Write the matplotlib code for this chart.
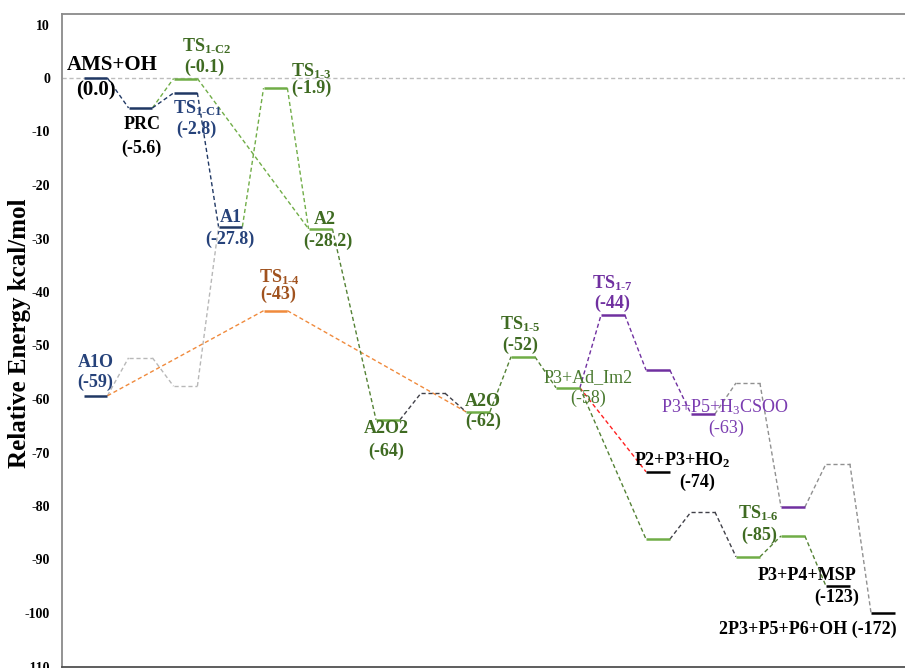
import numpy as np
import matplotlib.pyplot as plt

plt.rcParams['font.family'] = ['Liberation Serif', 'DejaVu Serif']
plt.rcParams['mathtext.fontset'] = 'custom'
plt.rcParams['mathtext.rm'] = 'Liberation Serif:bold'
plt.rcParams['mathtext.it'] = 'Liberation Serif:bold'
plt.rcParams['mathtext.bf'] = 'Liberation Serif:bold'

NAVY = '#203864'
NAVY_T = '#26427a'
GREEN = '#70ad47'
DGREEN = '#548235'
GREEN_T = '#3f6b22'
ORANGE = '#f08a3c'
BROWN = '#a0521e'
PURPLE = '#7030a0'
RED = '#ff2020'
LGREY = '#b8b8b8'
GREY = '#909090'
DGREY = '#404048'

# levels: key, slot on x, plotted energy, colour, solid level or dashed hump
lv_key = ['AMS', 'PRC', 'TSC2', 'TSC1', 'TS13', 'A1', 'A2', 'A1O', 'h1', 'h2',
          'TS14', 'A2O2', 'h3', 'A2O', 'TS15', 'P3Ad', 'TS17', 'pu1', 'P3P5',
          'h4', 'pu2', 'h5', 'END', 'P2P3', 'g1', 'h6', 'g2', 'TS16', 'MSP']
lv_x = [0, 1, 2, 2, 4, 3, 5, 0, 1, 2,
        4, 6.5, 7.5, 8.5, 9.5, 10.5, 11.5, 12.5, 13.5,
        14.5, 15.5, 16.5, 17.5, 12.5, 12.5, 13.5, 14.5, 15.5, 16.5]
lv_y = [0.0, -5.6, -0.1, -2.8, -1.9, -27.8, -28.2, -59.4, -52.3, -57.6,
        -43.5, -63.9, -58.9, -62.4, -52.1, -57.9, -44.3, -54.6, -62.8,
        -57.0, -80.2, -72.1, -100.0, -73.6, -86.2, -81.1, -89.5, -85.6, -95.0]
lv_col = [NAVY, NAVY, GREEN, NAVY, GREEN, NAVY, GREEN, NAVY, LGREY, LGREY,
          ORANGE, GREEN, DGREY, GREEN, GREEN, GREEN, PURPLE, PURPLE, PURPLE,
          GREY, PURPLE, GREY, 'black', 'black', GREEN, DGREY, GREEN, GREEN, 'black']
lv_hump = ['h1', 'h2', 'h3', 'h4', 'h5', 'h6']

# dashed connectors: from, to, colour
links = [('AMS', 'PRC', NAVY), ('PRC', 'TSC2', GREEN), ('PRC', 'TSC1', NAVY),
         ('TSC2', 'A2', GREEN), ('TSC1', 'A1', NAVY), ('A1', 'TS13', GREEN),
         ('TS13', 'A2', GREEN), ('A1O', 'h1', LGREY), ('h1', 'h2', LGREY),
         ('h2', 'A1', LGREY), ('A1O', 'TS14', ORANGE), ('TS14', 'A2O', ORANGE),
         ('A2', 'A2O2', DGREEN), ('A2O2', 'h3', DGREY), ('h3', 'A2O', DGREY),
         ('A2O', 'TS15', DGREEN), ('TS15', 'P3Ad', DGREEN),
         ('P3Ad', 'TS17', PURPLE), ('TS17', 'pu1', PURPLE), ('pu1', 'P3P5', PURPLE),
         ('P3P5', 'h4', GREY), ('h4', 'pu2', GREY), ('pu2', 'h5', GREY),
         ('h5', 'END', GREY), ('P3Ad', 'P2P3', RED), ('P3Ad', 'g1', DGREEN),
         ('g1', 'h6', DGREY), ('h6', 'g2', DGREY), ('g2', 'TS16', DGREEN),
         ('TS16', 'MSP', DGREEN)]

# labels: key, text, offset from level centre (pixels), colour, bold, size
labels = [
    ('AMS', 'AMS+OH', (17, 13), 'black', True, 15),
    ('AMS', '(0.0)', (0, -12), 'black', True, 15),
    ('PRC', 'PRC', (2, -17), 'black', True, 13),
    ('PRC', '(-5.6)', (1, -40), 'black', True, 13),
    ('TSC2', r'TS$_\mathregular{1\text{-}C2}$', (21, 32), GREEN_T, True, 13),
    ('TSC2', '(-0.1)', (19, 11), GREEN_T, True, 13),
    ('TSC1', r'TS$_\mathregular{1\text{-}C1}$', (12, -15), NAVY_T, True, 13),
    ('TSC1', '(-2.8)', (11, -36), NAVY_T, True, 13),
    ('TS13', r'TS$_\mathregular{1\text{-}3}$', (36, 17), GREEN_T, True, 13),
    ('TS13', '(-1.9)', (36, 0), GREEN_T, True, 13),
    ('A1', 'A1', (0, 9), NAVY_T, True, 13),
    ('A1', '(-27.8)', (-1, -13), NAVY_T, True, 13),
    ('A2', 'A2', (4, 9), GREEN_T, True, 13),
    ('A2', '(-28.2)', (7, -12), GREEN_T, True, 13),
    ('A1O', 'A1O', (0, 33), NAVY_T, True, 13),
    ('A1O', '(-59)', (0, 13), NAVY_T, True, 13),
    ('TS14', r'TS$_\mathregular{1\text{-}4}$', (4, 34), BROWN, True, 13),
    ('TS14', '(-43)', (3, 16), BROWN, True, 13),
    ('A2O2', 'A2O2', (-2, -9), GREEN_T, True, 13),
    ('A2O2', '(-64)', (-2, -31), GREEN_T, True, 13),
    ('A2O', 'A2O', (5, 10), GREEN_T, True, 13),
    ('A2O', '(-62)', (5, -10), GREEN_T, True, 13),
    ('TS15', r'TS$_\mathregular{1\text{-}5}$', (-3, 33), GREEN_T, True, 13),
    ('TS15', '(-52)', (-3, 11), GREEN_T, True, 13),
    ('P3Ad', 'P3+Ad_Im2', (20, 10), '#4a7a30', False, 13),
    ('P3Ad', '(-58)', (20, -11), '#4a7a30', False, 13),
    ('TS17', r'TS$_\mathregular{1\text{-}7}$', (-1, 32), PURPLE, True, 13),
    ('TS17', '(-44)', (-1, 12), PURPLE, True, 13),
    ('P3P5', r'P3+P5+H$_\mathregular{3}$CSOO', (22, 7), '#7a3cb0', False, 13),
    ('P3P5', '(-63)', (23, -14), '#7a3cb0', False, 13),
    ('P2P3', r'P2+P3+HO$_\mathregular{2}$', (24, 12), 'black', True, 13),
    ('P2P3', '(-74)', (39, -11), 'black', True, 13),
    ('TS16', r'TS$_\mathregular{1\text{-}6}$', (-35, 23), GREEN_T, True, 13),
    ('TS16', '(-85)', (-34, 1), GREEN_T, True, 13),
    ('MSP', 'P3+P4+MSP', (-31, 11), 'black', True, 13),
    ('MSP', '(-123)', (-1, -11), 'black', True, 13),
]
end_label = '2P3+P5+P6+OH (-172)'

yticks = np.arange(-110, 11, 10)

half = 0.265
pos = {k: (x, y) for k, x, y in zip(lv_key, lv_x, lv_y)}

fig = plt.figure(figsize=(9.05, 6.68), dpi=100)
ax = fig.add_axes([62 / 905, 1.5 / 668, 1 - 62 / 905, 652.7 / 668])

ax.axhline(0, color='#bdbdbd', lw=1, ls=(0, (3, 2)), zorder=1)

for a, b, c in links:
    xa, ya = pos[a]
    xb, yb = pos[b]
    ax.plot([xa + half, xb - half], [ya, yb], color=c, lw=1,
            ls=(0, (3, 2)), zorder=2)

for k, x, y, c in zip(lv_key, lv_x, lv_y, lv_col):
    if k in lv_hump:
        ax.plot([x - half, x + half], [y, y], color=c, lw=1, ls=(0, (3, 2)), zorder=2)
    else:
        ax.plot([x - half, x + half], [y, y], color=c, lw=1.8,
                solid_capstyle='butt', zorder=3)

for k, txt, off, c, bold, fs in labels:
    ax.annotate(txt, xy=pos[k], xytext=off, textcoords='offset pixels',
                ha='center', va='center', color=c, fontsize=fs,
                fontweight='bold' if bold else 'normal', zorder=4)

ax.annotate(end_label, xy=pos['END'], xytext=(-164, -16), textcoords='offset pixels',
            ha='left', va='center', color='black', fontsize=13, fontweight='bold')

ax.set_xlim(-0.744, 17.99)
ax.set_ylim(-110, 12)
ax.set_yticks(yticks)
ax.set_yticklabels([str(v) for v in yticks], fontweight='bold', fontsize=10)
ax.set_xticks([])
ax.tick_params(axis='y', length=0, pad=8.5)
ax.set_ylabel('Relative Energy kcal/mol', fontsize=18, fontweight='bold')
ax.yaxis.set_label_coords(-0.037, 0.51)

ax.spines['right'].set_visible(False)
for s in ['left', 'top']:
    ax.spines[s].set_color('#8a8a8a')
    ax.spines[s].set_linewidth(1.3)
ax.spines['bottom'].set_color('#505050')
ax.spines['bottom'].set_linewidth(1.3)

fig.savefig('out.png', dpi=100)
